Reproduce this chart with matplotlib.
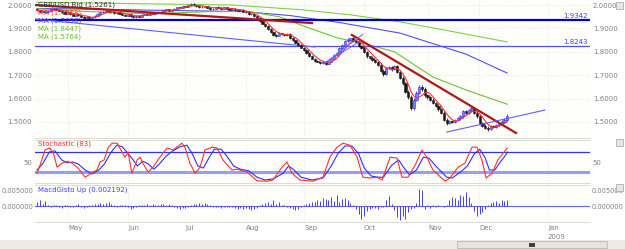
import numpy as np
import pandas as pd
import matplotlib
matplotlib.use("Agg")
import matplotlib.pyplot as plt
from matplotlib.patches import Rectangle

# ====================================================================
# DATA
# ====================================================================

first_open = 1.982
closes = [
    1.978, 1.972, 1.975, 1.968, 1.975, 1.982, 1.985, 1.980, 1.975, 1.970, 1.962, 1.968,
    1.960, 1.955, 1.962, 1.958, 1.950, 1.945, 1.950, 1.945, 1.948, 1.955, 1.962, 1.968,
    1.972, 1.975, 1.968, 1.972, 1.965, 1.970, 1.962, 1.958, 1.955, 1.960, 1.952, 1.948,
    1.955, 1.950, 1.958, 1.962, 1.958, 1.965, 1.962, 1.968, 1.972, 1.970, 1.978, 1.982,
    1.975, 1.980, 1.985, 1.990, 1.988, 1.995, 1.992, 1.998, 2.005, 1.998, 1.995, 1.990,
    1.992, 1.995, 1.988, 1.982, 1.985, 1.992, 1.988, 1.985, 1.990, 1.985, 1.980, 1.985,
    1.978, 1.975, 1.980, 1.972, 1.968, 1.960, 1.962, 1.952, 1.945, 1.932, 1.920, 1.910,
    1.898, 1.885, 1.872, 1.868, 1.880, 1.875, 1.872, 1.878, 1.860, 1.850, 1.838, 1.830,
    1.818, 1.808, 1.795, 1.782, 1.770, 1.762, 1.758, 1.752, 1.757, 1.750, 1.758, 1.770,
    1.785, 1.795, 1.815, 1.830, 1.845, 1.852, 1.858, 1.848, 1.840, 1.825, 1.818, 1.800,
    1.780, 1.775, 1.765, 1.758, 1.745, 1.720, 1.705, 1.730, 1.735, 1.725, 1.738, 1.715,
    1.690, 1.665, 1.630, 1.605, 1.560, 1.595, 1.625, 1.650, 1.640, 1.615, 1.605, 1.595,
    1.582, 1.570, 1.555, 1.540, 1.510, 1.495, 1.505, 1.500, 1.508, 1.515, 1.525, 1.545,
    1.540, 1.550, 1.560, 1.540, 1.525, 1.495, 1.485, 1.475, 1.470, 1.482, 1.478, 1.488,
    1.495, 1.502, 1.510, 1.5261,
]
# wick length per bar, in 0.001
wicks = [
    4, 5, 3, 6, 4, 3, 5, 4, 3, 6, 5, 4,
    5, 3, 4, 6, 4, 5, 3, 4, 5, 4, 6, 3,
    4, 5, 3, 4, 6, 3, 5, 4, 3, 5, 6, 4,
    3, 5, 4, 3, 4, 5, 3, 4, 6, 4, 5, 3,
    5, 4, 3, 6, 4, 5, 4, 3, 6, 5, 4, 3,
    4, 5, 3, 4, 6, 3, 5, 4, 3, 4, 5, 4,
    5, 4, 3, 6, 5, 4, 6, 5, 4, 7, 6, 5,
    6, 8, 5, 6, 5, 4, 6, 5, 7, 6, 5, 8,
    6, 7, 8, 6, 5, 7, 6, 8, 5, 9, 6, 7,
    8, 6, 9, 7, 8, 10, 6, 8, 9, 7, 8, 10,
    9, 8, 10, 12, 9, 11, 14, 10, 8, 12, 9, 11,
    12, 14, 15, 16, 18, 15, 12, 14, 13, 16, 12, 11,
    12, 10, 14, 13, 15, 12, 10, 11, 9, 10, 12, 14,
    10, 12, 14, 11, 12, 13, 10, 12, 14, 11, 9, 10,
    11, 9, 10, 12,
]
# MacdGisto histogram, in 0.0001
macd_hist = [
    12, 18, 6, 15, 3, -2, 2, 4, -3, -5, 2, 3,
    -4, -2, 3, 5, -3, -6, -2, 2, 4, 6, 8, 9,
    5, 10, 12, 6, 3, -2, 4, 3, 2, -3, -8, -5,
    -2, 3, 2, 4, 6, 3, 5, 2, 4, 6, 7, 4,
    8, 3, -2, -6, -8, -5, -7, -3, 4, 5, 8, 10,
    6, 9, 5, 2, -2, -4, -3, -5, -2, -4, -3, -2,
    -6, -8, -5, -10, -7, -10, -13, -8, -5, 3, 6, 10,
    14, 8, 18, 6, 12, 4, 2, -3, -6, -10, -12, -8,
    -4, 3, 6, 10, 14, 12, 20, 16, 26, 22, 18, 28,
    16, 34, 14, 22, 26, 18, 10, 4, -10, -25, -40, -30,
    -15, -8, -5, -6, -10, -4, -3, 18, 30, 8, -12, -35,
    -45, -30, -40, -20, -10, -5, 10, 55, 50, -9, 3, -6,
    2, -3, 2, 1, -2, 3, 18, 28, 24, 20, 35, 30,
    45, 28, 10, -15, -30, -25, -18, -8, 4, 9, 12, 15,
    10, 18, 15, 20,
]

# long moving averages (bar index, price)
ma_blue_x = [0, 23, 41, 59, 75, 92, 110, 132, 156, 171]
ma_blue_y = [1.985, 1.982, 1.978, 1.975, 1.972, 1.955, 1.925, 1.880, 1.790, 1.709]
ma_green1_x = [0, 34, 71, 96, 114, 132, 150, 171]
ma_green1_y = [2.012, 2.006, 2.000, 1.980, 1.958, 1.928, 1.889, 1.842]
ma_green2_x = [0, 19, 41, 63, 77, 88, 97, 109, 119, 130, 144, 156, 171]
ma_green2_y = [1.984, 1.972, 1.962, 1.972, 1.972, 1.950, 1.910, 1.860, 1.835, 1.800, 1.692, 1.637, 1.576]

# stochastic %K (red) and %D (blue)
stoch_k_x = [0, 1.1, 2.9, 4.7, 6.2, 7.3, 9.1, 10.9, 12.7, 14.9, 17.5, 19.3, 21.8, 22.9, 24.4,
             25.8, 27.3, 29.1, 30.5, 32, 33.1, 34.5, 36.4, 37.5, 38.5, 40.4, 42.2, 44.7, 47.3,
             49.5, 52.7, 53.8, 55.6, 57.5, 59.3, 61.1, 63.6, 65.5, 67.6, 70.9, 72.7, 76.4, 80,
             83.6, 85.8, 89.1, 90.9, 92.7, 95.6, 100.4, 104, 106.5, 109.1, 111.3, 113.8, 116.4,
             118.5, 121.1, 123.6, 125.5, 128.4, 130.9, 132.7, 134.9, 137.5, 140, 141.8, 144,
             148.4, 150.2, 153.1, 155.6, 158.2, 160, 161.8, 163.3, 165.5, 167.6, 169.5, 171]
stoch_k_y = [22, 42, 80, 85, 67, 37, 47, 52, 47, 35, 12, 20, 30, 50, 55,
             85, 97, 97, 80, 62, 75, 22, 55, 62, 47, 25, 37, 62, 85,
             80, 97, 87, 47, 22, 37, 80, 87, 85, 55, 30, 32, 25, 3,
             2, 5, 37, 50, 22, 5, 2, 12, 62, 87, 97, 92, 62,
             12, 10, 12, 5, 62, 60, 12, 12, 42, 80, 62, 30,
             2, 10, 37, 47, 87, 87, 55, 10, 22, 55, 72, 85]
stoch_d_x = [0, 2, 4.5, 6.5, 9, 11, 13, 15, 17.5, 20, 22.5, 24.5, 27, 29, 31, 33, 35, 36.5,
             38.5, 40.5, 42.5, 44.5, 47, 49.5, 52, 54.5, 56.5, 58.5, 60.5, 62.5, 64.5, 67,
             69, 71.5, 74, 77, 80, 83, 86, 89.5, 91.5, 93.5, 96, 100, 104, 107, 109.5, 112,
             114.5, 117, 119, 121.5, 124, 126, 129, 131.5, 133.5, 135.5, 138, 140.5, 142.5,
             145, 149, 151, 154, 156.5, 159, 161, 163, 164.5, 166.5, 168.5, 170.5, 171]
stoch_d_y = [30, 45, 75, 78, 55, 48, 50, 45, 30, 20, 30, 45, 75, 92, 88, 72, 55, 40,
             52, 45, 32, 45, 65, 78, 88, 92, 70, 40, 35, 60, 82, 82,
             65, 40, 32, 28, 12, 5, 8, 22, 40, 30, 12, 5, 10, 40, 72, 90,
             90, 70, 35, 15, 12, 12, 42, 55, 35, 18, 30, 62, 60,
             40, 12, 10, 25, 40, 70, 82, 60, 30, 30, 50, 68, 75]

# drawn trend lines (bar index, price)
red_line_top = ([-0.7, 100], [2.000, 1.923])
red_line_down = ([114.5, 174.2], [1.872, 1.453])
blue_line_top = ([-0.7, 101], [1.940, 1.8205])
blue_line_bottom = ([149, 184.7], [1.457, 1.551])
blue_fan = [([104.7, 118.5], [1.752, 1.875]), ([104.7, 117.5], [1.752, 1.845])]
h_levels = [1.9342, 1.8243]

month_pos = [11.3, 33.1, 53.8, 76, 97.1, 118.9, 142.2, 160.7, 185.8]
month_lab = ["May", "Jun", "Jul", "Aug", "Sep", "Oct", "Nov", "Dec", "Jan"]

# ====================================================================
# FIGURE
# ====================================================================

W, H = 625, 249
BG = "#fefefa"
GRID = "#e2dfcf"
TXT = "#808080"
XMIN, XMAX = -0.73, 201.1

fig = plt.figure(figsize=(W / 100, H / 100), dpi=100, facecolor="white")
plt.rcParams["font.family"] = ["DejaVu Sans"]


def box(top, bottom):
    return [35 / W, 1 - bottom / H, 555 / W, (bottom - top) / H]


ax1 = fig.add_axes(box(0, 138))
ax2 = fig.add_axes(box(140, 183))
ax3 = fig.add_axes(box(185, 222))

for ax in (ax1, ax2, ax3):
    ax.set_facecolor(BG)
    ax.set_xlim(XMIN, XMAX)
    for s in ax.spines.values():
        s.set_color("#d6d6cc")
        s.set_linewidth(0.6)
    ax.spines["left"].set_visible(False)
    ax.spines["right"].set_visible(False)
    ax.tick_params(length=0, labelsize=5, colors=TXT, labelleft=True, labelright=True, pad=2)
    ax.set_xticks(month_pos)
    ax.set_xticklabels([])
    ax.grid(True, color=GRID, linestyle=(0, (1, 2)), linewidth=0.6)
    ax.set_axisbelow(True)

# ---- price panel ----
x = np.arange(len(closes))
c = np.array(closes)
o = np.concatenate([[first_open], c[:-1]])
w = np.array(wicks) * 0.001
hi = np.maximum(o, c) + w / 2
lo = np.minimum(o, c) - w / 2
up = c >= o

ax1.vlines(x[up], lo[up], hi[up], color="#3030e0", lw=0.6, zorder=3)
ax1.vlines(x[~up], lo[~up], hi[~up], color="#202020", lw=0.6, zorder=3)
body = np.maximum(np.abs(c - o), 0.0012)
ax1.bar(x[up], body[up], bottom=np.minimum(o, c)[up], width=0.8,
        color="#8080ff", edgecolor="#2828e8", linewidth=0.4, zorder=4)
ax1.bar(x[~up], body[~up], bottom=np.minimum(o, c)[~up], width=0.8,
        color="#1a1a1a", edgecolor="#1a1a1a", linewidth=0.4, zorder=4)

ma_red = pd.Series(closes).rolling(5, min_periods=1).mean()
ax1.plot(x, ma_red, color="#ff3030", lw=0.8, zorder=5)
ax1.plot(ma_blue_x, ma_blue_y, color="#5050f0", lw=0.8, zorder=2)
ax1.plot(ma_green1_x, ma_green1_y, color="#80d040", lw=0.8, zorder=2)
ax1.plot(ma_green2_x, ma_green2_y, color="#70c030", lw=0.8, zorder=2)

ax1.axhline(h_levels[0], color="#0000c8", lw=1.6, zorder=2)
ax1.axhline(h_levels[1], color="#5050ff", lw=0.9, zorder=2)
for lv in h_levels:
    ax1.text(XMAX - 1, lv + 0.004, f"{lv:.4f}", color="#4040ff", fontsize=5,
             ha="right", va="bottom")

ax1.plot(*red_line_top, color="#b01818", lw=1.6, zorder=6)
ax1.plot(*red_line_down, color="#b01818", lw=1.6, zorder=6)
ax1.plot(*blue_line_top, color="#6060ff", lw=0.8, zorder=2)
ax1.plot(*blue_line_bottom, color="#6060ff", lw=0.8, zorder=6)
for fx, fy in blue_fan:
    ax1.plot(fx, fy, color="#6060ff", lw=0.7, zorder=6)

ax1.set_ylim(1.4316, 2.0214)
ax1.set_yticks([1.5, 1.6, 1.7, 1.8, 1.9, 2.0])
ax1.set_yticklabels([f"{v:.4f}" for v in [1.5, 1.6, 1.7, 1.8, 1.9, 2.0]])
ax1.spines["top"].set_visible(False)

legend = [("GBP/USD Bid (1.5261)", "#303030"), ("MA (1.4968)", "#ff3030"),
          ("MA (1.7098)", "#4040f0"), ("MA (1.8447)", "#60c030"), ("MA (1.5764)", "#60c030")]
for k, (t, col) in enumerate(legend):
    ax1.text(2.5 / 555, 1 - (5 + 8 * k) / 138, t, transform=ax1.transAxes,
             color=col, fontsize=5, va="center", ha="left", zorder=7)

# ---- stochastic ----
ax2.axhline(75, color="#3030ff", lw=0.9)
ax2.axhline(25, color="#9a9aff", lw=2.2)
ax2.plot(stoch_d_x, stoch_d_y, color="#3030ff", lw=0.8)
ax2.plot(stoch_k_x, stoch_k_y, color="#ff3030", lw=0.8)
ax2.set_ylim(-2.5, 105)
ax2.set_yticks([50])
ax2.grid(False, axis="y")
ax2.text(2.5 / 555, 1 - 4 / 43, "Stochastic (83)", transform=ax2.transAxes,
         color="#ff3030", fontsize=5, va="center", ha="left")

# ---- macd histogram ----
hist = np.array(macd_hist) * 0.0001
ax3.axhline(0, color="#6060ff", lw=0.8)
ax3.vlines(x, 0, hist, color="#4040ff", lw=0.7)
ax3.set_ylim(-0.0050, 0.0066)
ax3.set_yticks([0, 0.005])
ax3.set_yticklabels(["0.000000", "0.005000"])
ax3.tick_params(axis="y", labelsize=4.8, pad=1)
ax3.grid(False, axis="y")
ax3.text(2.5 / 555, 1 - 5 / 37, "MacdGisto Up (0.002192)", transform=ax3.transAxes,
         color="#4040ff", fontsize=5, va="center", ha="left")
ax3.set_xticklabels(month_lab, ha="left")
ax3.tick_params(axis="x", labelbottom=True, pad=2)
fig.text(548 / W, 1 - 237 / H, "2009", color=TXT, fontsize=5, ha="left", va="center")

# ---- scroll bar strip at the bottom ----
fig.patches.append(Rectangle((0, 0), 1, 9 / H, transform=fig.transFigure,
                             facecolor="#ecece4", edgecolor="none"))
fig.patches.append(Rectangle((457 / W, 1 / H), 150 / W, 7 / H, transform=fig.transFigure,
                             facecolor="#e4e4dc", edgecolor="#b0b0a8", lw=0.5))
fig.patches.append(Rectangle((529 / W, 2.5 / H), 6 / W, 4 / H, transform=fig.transFigure,
                             facecolor="#404040", edgecolor="none"))
for yy in (5, 142, 187):
    fig.patches.append(Rectangle((616 / W, 1 - (yy + 4) / H), 7 / W, 7 / H,
                                 transform=fig.transFigure, facecolor="#e8e8e0",
                                 edgecolor="#a0a0a0", lw=0.5))

fig.savefig("out.png", dpi=100, facecolor="white")
